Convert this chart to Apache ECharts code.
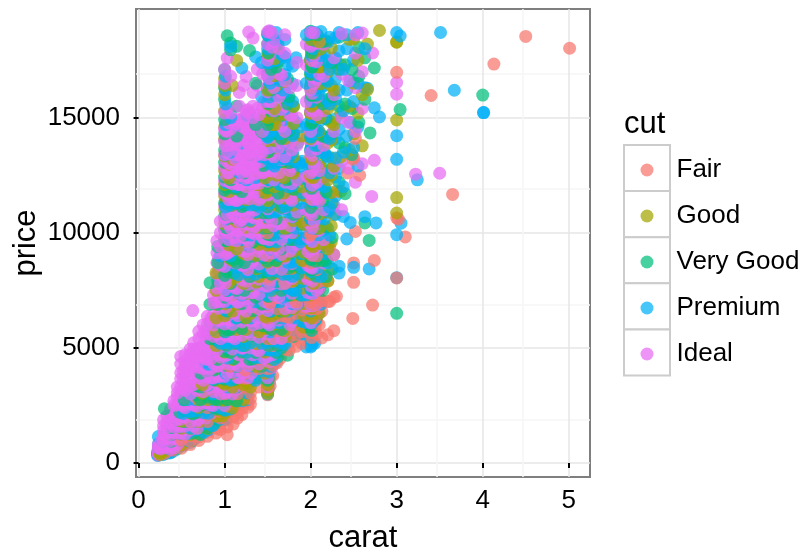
<!DOCTYPE html>
<html><head><meta charset="utf-8">
<style>html,body{margin:0;padding:0;background:#fff}#c{width:807px;height:552px}</style>
<script src="https://cdn.jsdelivr.net/npm/echarts@6/dist/echarts.min.js"></script>
</head><body><div id="c"></div>
<script>
const cuts = ['Fair','Good','Very Good','Premium','Ideal'];
const colors = ['#F8766D','#A3A500','#00BF7D','#00B0F6','#E76BF3'];
const xTicks = [0,1,2,3,4,5];
const yTicks = [0,5000,10000,15000];
// Each row: [carat, [prices...]]
const fair = [
[0.3,[420,560]],[0.4,[560,700,860]],[0.5,[640,800,1000,1240]],[0.6,[800,960,1180,1420,1700]],[0.7,[980,1130,1360,1620,1880,2230]],[0.8,[1160,1340,1590,1800,2100,2400]],[0.9,[1300,1510,1760,2050,2320,2560]],
[1.03,[1230,1560,1880,2150,2480,2780]],[1.1,[1690,2000,2300,2590,2870]],[1.2,[2100,2360,2600,2810]],[1.27,[2420,2640,2830]],[1.3,[2550,2800,3050]],
[1.5,[2960,3200,3520,3810,4090,4400,4720,5000,5400,5900,6300,6800,7300,8100,9000,10000,11000,12200]],[1.56,[3800,4250,4650,5100,5650,6220]],[1.65,[4560,5000,5440,5900,6400]],[1.75,[4900,5480,5950,6330,6800]],[1.83,[5070,5560,6100,6500,7000]],[1.9,[5200,5700,6240,6650]],
[2.0,[5670,5900,6180,6440,6700,7000,7300,7620,7990,8340,8700,9100,9480,9900,10320,10800,11500,12400,13300,14200,15200,16400]],[2.05,[5900,6310,6900,7400,8000,8600]],[2.13,[5430,6590,7050,7920]],[2.2,[5570,7020,7920,8300]],[2.22,[7020,9400]],[2.27,[5750,7200]],[2.3,[7240,11800]],
[2.43,[12600]],[2.49,[6280,13200]],[2.5,[7850,8690,13270]],[2.52,[10060,14100]],[2.57,[12500]],[2.72,[6860]],[2.74,[8800]],
[3.0,[8040,10650,16970]],[3.02,[10590]],[3.1,[9820]],[3.4,[15964]],[3.65,[11668]],[4.13,[17329]],[4.5,[18531]],[5.01,[18018]]
];
const fairFill = [
[1.06,[2900,3180,3500,3840,4200,4590,4950]],[1.24,[2950,3300,3680,4040,4430,4810,5200]],[1.4,[3300,3700,4100,4520,4960,5380,5800]],
[1.53,[3350,3760,4180,4630,5090,5540,6030,6490,6980,7450,7960,8440,8960,9480]],[1.61,[4350,4790,5260,5740,6210,6700,7190,7710,8230,8760]],[1.71,[4930,5390,5860,6360,6860,7370,7890,8440,8990]],[1.78,[5300,5780,6290,6800,7330,7880,8450]],
[2.01,[5450,5840,6260,6690,7140,7590,8040,8500,8990,9470,9960,10480]],[2.07,[5600,6150,6700,7240,7810,8400,9000]],[2.1,[6000,6800,7500,8200]],
[0.95,[1450,1700,1960,2230,2510,2790]],[1.15,[1950,2220,2500,2770,3010,3240,3480]],[1.93,[5350,5800,6280,6760,7250,7750,8260,8780]]
];
const good = [
[0.25,[370,440,520]],[0.31,[510,640,800]],[0.4,[620,800,1010,1280]],[0.5,[800,1020,1260,1510,1820]],[0.6,[1010,1240,1500,1800,2180]],[0.7,[1270,1540,1800,2080,2420,2750]],[0.8,[1500,1760,2020,2340,2750,3150]],[0.9,[1780,2040,2340,2750,3180,3600]],
[0.9,[4100,4550,5100,5700,6300,6900,7500,8260]],
[1.0,[2150,2500,2750,3000,3420,3860,4320,4820,5340,5850,6400,6920,7480,8030,8600,9200,9800,10400,11000,11600,12100,12700,13350,14060,14600,15290,16000,16400,16700]],
[1.09,[2400,2750,3300,3900,4500,5200,5900,6600,7300,8000,8800,9600,10400,11200,12100,13200,16400]],[1.14,[17490,2750,3600,4700,5800,6900,8100,9300,10500,11900]],[1.22,[2750,3400,4400,5500,6700,7800,9100,10400]],[1.3,[3300,4300,5300,6500,7700,9100,10500]],[1.4,[3700,4700,5700,7000,8100,9500,11000,12100]],
[1.5,[3020,3180,3400,3640,3860,4120,4400,4700,5000,5260,5600,5900,6250,6580,6900,7260,7620,8000,8350,8720,9100,9460,9840,10250,10640,11020,11400,11800,12200,12640,13050,13500,14000,14500,15000,15600,16200,17000,17800]],
[1.55,[4500,5400,6400,7500,8600,9800,11000,12200,13400,14700,16000]],[1.6,[4700,5500,6500,7700,8800,10000,11200,12500,13700,15000,16400,18100]],[1.7,[5500,6600,7800,9000,10200,11500,12800,14100]],[1.8,[6100,7100,8500,10000,11500,12700,14300]],[1.9,[6200,7600,8800,10500,12000,14200]],
[2.0,[6100,6500,6900,7300,7700,8200,8640,9070,9520,10020,10480,11010,11500,12020,12500,13000,13600,14100,14640,15200,15800,16300,16900,17500,18100,18400]],
[2.03,[6200,7000,7800,8600,9400,10400,11300,12400,13400,14500,15600,16700,17800]],[2.1,[6500,7600,8800,10200,11600,13000,14400,15800,17200,18300]],[2.2,[7900,9300,10900,12300,13900,15400,17000]],[2.27,[9050,10800,12900,14700,16200]],[2.35,[11800,13300,15200,17300]],[2.45,[13600,15500,18400]],[2.5,[14300,16500,18420]],[2.55,[15200,17500]],[2.6,[13780,16000]],[2.66,[16220,18200]],
[2.8,[18787]],[3.0,[10860,11530,14900,18280,18290]]
];
const goodFill = [
[1.05,[3180,3540,3960,4390,4840,5300,5790,6280,6790,7310,7830,8370,8920,9470,10040,10610,11200,11790,12380,12980]],
[1.25,[3500,3910,4360,4820,5310,5800,6310,6840,7370,7920,8480,9060,9640,10240,10840,11440,12050]],
[1.37,[3760,4200,4680,5180,5690,6220,6750,7300,7860,8440,9020,9620,10230,10850,11470,12100,12720]],
[1.47,[3900,4340,4820,5330,5840,6370,6920,7480,8050,8640,9230,9840,10460,11090,11730,12380,13040,13700,14380,15060]],
[1.58,[4560,5030,5520,6040,6570,7120,7680,8260,8850,9450,10070,10700,11340,12000,12660,13330,14010,14700,15400,16110,16830,17560]],
[1.69,[5240,5750,6280,6830,7400,7980,8570,9180,9800,10430,11080,11730,12400,13080,13760,14450,15150,15860,16580]],
[1.8,[6700,7300,7920,8560,9200,9860,10530,11200,11890,12590,13300,14020,14750,15490]],
[2.01,[5900,6300,6740,7170,7620,8080,8550,9030,9520,10020,10530,11040,11570,12100,12650,13200,13760,14330,14910,15500,16100,16710,17330,17960,18580]],
[2.11,[7100,7680,8280,8900,9530,10170,10830,11500,12180,12870,13570,14280,15000,15730,16470,17220,17980]],
[2.24,[9600,10300,11020,11750,12500,13260,14030,14810,15600,16400,17210,18030]],
[0.56,[1150,1400,1680,1980,2300,2640]],[0.74,[1400,1680,1990,2320,2670,3030,3400,3780]],[0.98,[2050,2380,2730,3100,3490,3890,4310]],[1.92,[5900,6400,6920,7460,8010,8580,9160,9760,10370,10990,11620,12260]]
];
const veryGood = [
[0.23,[340,420,500,590]],[0.3,[2360,400,560,760,980,1180]],[0.38,[480,700,950,1230,1540]],[0.46,[640,880,1170,1490,1860]],[0.53,[810,1100,1420,1800,2260,2750]],[0.63,[980,1300,1680,2130,2640,3180]],[0.72,[1240,1590,2000,2500,2750,3300,3900]],[0.8,[1530,1870,2350,2860,3380,4000,4700]],[0.83,[5400,6100,6900,7830]],[0.92,[1900,2350,2750,3200,3800,4500,5300,6100,6900,7900,8700,9400]],
[1.0,[2300,2620,2950,3280,3640,4050,4420,4850,5320,5730,6220,6690,7200,7690,8150,8650,9240,9680,10120,10720,11300,11850,12420,13060,13600,14300,14920,15800,16300,17090]],
[1.03,[2750,3400,4100,4950,5800,6600,7500,8300,9200,18560]],[1.07,[3100,3900,4800,5800,6800,7800,8900,10100,11000,12300,13900,17950,18250]],[1.14,[18100,2700,3300,4200,5200,6300,7500,8700,10000,11300,12800,14200,15500]],[1.23,[3100,4100,5100,6300,7500,8700,9900,11200,12600,14000]],[1.29,[17920,3500,4500,5600,6800,8100,9400,10700,12100,13400,15200]],[1.36,[3700,4800,6000,7200,8500,9800,11200,12800,14700,16500]],[1.43,[4200,5500,6900,8300,9700,11200,12700,14400]],
[1.5,[3100,3350,3600,3860,4150,4430,4740,5040,5350,5680,6000,6320,6660,7000,7340,7700,8060,8420,8780,9160,9540,9930,10320,10720,11120,11530,11950,12380,12800,13280,13720,14200,14700,15200,15700,16300,16900,17600,18200,18650]],
[1.54,[4300,5000,5800,6600,7400,8200,9000,9900,10700,11600,12500,13400,14300,15300,16200,17100,18100]],[1.6,[4800,5500,6300,7100,7900,8800,9700,10600,11500,12400,13300,14300,15300,16300,17200]],[1.66,[5000,5800,6600,7500,8400,9300,10200,11100,12100,13100,14100,15100]],[1.73,[4680,5500,6400,7300,8200,9200,10200,11200,12300,13300,14400,15600,16700]],[1.8,[5500,6500,7500,8600,9700,10800,11900,13100,14300,15500]],[1.85,[5670,6900,8200,9500,10900,12400,13900]],
[2.0,[5500,5900,6300,6720,7120,7560,7980,8400,8840,9290,9720,10180,10620,11100,11560,12060,12530,13040,13560,14080,14630,15180,15740,16320,16880,17460,18040,18620,18760]],
[2.02,[6500,7400,8400,9400,10400,11500,12600,13700,14800,16000,17200,18400]],[2.08,[6800,7900,9000,10200,11400,12600,13800,15000,16300,17500,18600]],[2.14,[7500,8800,10100,11400,12800,14200,15600,17000,18300]],[2.25,[8430,9800,11300,12800,14300,15900,17400]],[2.33,[12200,13900,15500,17100,18500]],[2.4,[11700,13700,15600,17300]],[2.48,[13400,15400,17100]],[2.56,[14800,16800,18050]],[2.63,[10430,15800,17600]],[2.68,[9670]],[2.69,[14340]],[2.74,[17160]],
[3.0,[6500]],[3.04,[15354]],[4.0,[15984]]
];
const veryGoodFill = [
[1.02,[3060,3440,3830,4240,4670,5110,5560,6030,6510,7000,7510,8030,8560,9100,9660,10220,10800,11380,11980,12580,13190]],
[1.11,[3200,3620,4060,4530,5020,5520,6040,6570,7120,7680,8250,8840,9430,10040,10660,11290,11930,12580]],
[1.2,[3450,3880,4340,4820,5320,5840,6370,6920,7480,8060,8650,9250,9870,10500,11140,11790,12450]],
[1.33,[4050,4520,5020,5540,6070,6620,7190,7770,8370,8980,9600,10240,10890,11550,12220]],
[1.45,[4400,4900,5420,5960,6520,7100,7690,8300,8920,9550,10200,10860,11530,12220,12920,13630,14350,15080]],
[1.51,[3220,3680,4130,4610,5100,5610,6140,6680,7240,7810,8390,8990,9600,10220,10860,11510,12170,12840,13520,14210,14910,15620,16340,17070,17810,18560]],
[1.62,[4620,5120,5640,6180,6740,7310,7900,8500,9120,9750,10390,11050,11720,12400,13090,13790,14500,15220,15950,16690,17440,18200]],
[1.75,[5650,6170,6720,7290,7870,8470,9080,9710,10350,11010,11680,12360,13050,13750,14460,15180,15910]],
[2.01,[5350,5760,6170,6590,7020,7470,7920,8390,8860,9350,9850,10360,10870,11400,11930,12480,13040,13600,14180,14760,15360,15960,16570,17200,17830,18480]],
[2.06,[6250,6860,7480,8120,8770,9440,10120,10810,11510,12220,12950,13690,14440,15200,15970,16750,17540,18340]],
[2.18,[8100,8800,9520,10260,11010,11780,12560,13350,14150,14970,15790,16630,17480,18340]],
[0.48,[760,1000,1270,1560,1870,2200]],[0.67,[1180,1490,1830,2190,2570,2960,3360]],[0.88,[1700,2040,2410,2800,3200,3610,4040,4480,4930,5390]],[1.88,[5650,6180,6730,7300,7880,8480,9090,9720,10360,11010,11670,12340,13020]]
];
const premium = [
[0.22,[335,390,460]],[0.23,[1150,540,660,830]],[0.28,[360,500,700,950]],[0.34,[430,620,860,1130,1430]],[0.42,[550,780,1060,1360,1720,2030]],[0.52,[760,1040,1350,1720,2150,2750]],[0.57,[2750,980,1280,1600,2000,2480]],[0.66,[1080,1430,1830,2260,2750,3260]],[0.76,[1340,1700,2180,2660,3200,3760,4400]],[0.86,[1620,2000,2480,2750,3000,3650,4300,5000,5800]],[0.95,[1900,2400,2750,3100,3700,4400,5200,6100,7000,8000,9000]],
[1.01,[1900,2300,2750,3120,3500,3900,4340,4760,5240,5700,6140,6640,7120,7580,8070,8570,9050,9550,10050,10590,11120,11680,12200,12780,13380,14040,14700,15600,16200,16800]],
[1.07,[2350,2950,3600,4400,5200,6100,7000,8000,9000,10100,11200,12500,13500,15000,18100]],[1.13,[2750,3500,4400,5300,6300,7400,8500,9700,10900,12000,13300,14700]],[1.2,[2700,3250,4150,5100,6200,7300,8500,9700,11000,12400,13900,17160]],[1.26,[2750,3040,3800,4800,5900,7100,8300,9500,10900,12300,13700,15100]],[1.36,[3600,4600,5800,7000,8200,9500,10900,12400,17640]],[1.43,[4000,5200,6400,7700,9000,10400,11800,13300,15900,17400]],
[1.5,[3000,3280,3520,3780,4050,4330,4620,4930,5240,5560,5890,6220,6560,6920,7280,7640,8000,8370,8740,9120,9500,9880,10280,10680,11080,11490,11900,12330,12760,13200,13660,14140,14640,15160,15700,16240,16820,17380,18000,18600]],
[1.53,[18740,4200,4900,5700,6600,7500,8400,9300,10300,11300,12300,13300,14400,15400,16500,17600]],[1.58,[4500,5300,6100,7000,7900,8900,9900,10900,11900,12900,14000,15100,16300,17500,18400]],[1.64,[5240,6100,7000,8000,9000,10000,11000,12100,13200,14300,15400,16600,17800]],[1.68,[5240,6300,7200,8200,9200,10300,11400,12500,13700,14900,16200,17700]],[1.74,[5600,6600,7600,8700,9800,10900,12000,13200,14500,15800,17300]],[1.83,[6300,7500,8800,10200,11600,13100,14800,17600]],[1.88,[6500,8000,9600,11300,12900,14600]],
[1.95,[5040,6100,7300,8600,10000,11500,13000,14700,16500,18600]],
[2.0,[5040,5400,5800,6200,6600,7040,7480,7900,8320,8760,9220,9680,10140,10600,11080,11560,12080,12580,13100,13620,14160,14700,15260,15840,16400,16980,17560,18140,18720]],
[2.03,[5250,7410,8500,9500,10700,11900,13100,14300,15500,16700,18000]],[2.05,[5210,6200,7000,8000,9100,10200,11400,12600,13800,15000,16200,17400,18700]],[2.12,[6900,8100,9400,10700,12100,13500,14900,16300,17700,18740]],[2.16,[9090,7900,8800,10600,12000,13500,15000,16400,17800]],[2.22,[9900,11100,12600,14100,15600,17100,18500]],[2.33,[8250,8550,12800,14500,16200,17900,18700]],[2.38,[10710,12000,13500,15300,17100]],[2.42,[9730,14200,16200,18000,18600]],[2.46,[10450,14800,16600]],[2.5,[8500,13700,15700,17500]],[2.55,[12900,14600,16500,18700]],[2.63,[10700,16300,18000]],[2.66,[16280]],[2.68,[8430]],[2.74,[15430]],[2.76,[10430]],[2.8,[15030]],
[3.0,[8050,9920,13190,14220,18700]],[3.04,[18550]],[3.05,[10420]],[3.24,[12300]],[3.51,[18701]],[3.67,[16193]],[4.01,[15223,15223]]
];
const premiumFill = [
[1.04,[3300,3700,4120,4560,5020,5490,5980,6480,6990,7520,8060,8610,9170,9750,10340,10940,11550,12170,12800,13440]],
[1.16,[3100,3520,3960,4430,4920,5420,5940,6480,7030,7600,8180,8780,9390,10010,10650,11300,11960,12630]],
[1.3,[3760,4220,4710,5220,5750,6300,6860,7440,8030,8640,9260,9900,10550,11210,11880,12560]],
[1.41,[4100,4580,5090,5620,6170,6740,7320,7920,8530,9160,9800,10450,11120,11800,12490]],
[1.52,[3500,3960,4440,4950,5480,6020,6580,7160,7750,8360,8980,9620,10270,10930,11610,12300,13000,13710,14430,15160,15900,16650,17410,18180,18680]],
[1.6,[4400,4900,5430,5980,6550,7130,7730,8340,8970,9610,10270,10940,11620,12320,13030,13750,14480,15220,15970,16730,17500,18280,18700]],
[1.7,[5160,5680,6230,6790,7370,7960,8570,9190,9830,10480,11150,11830,12520,13220,13930,14650,15380,16120,16870,17630,18400]],
[1.79,[5800,6350,6920,7510,8110,8730,9370,10020,10690,11370,12060,12770,13490,14220,14960,15710,16470,17240]],
[2.01,[5100,5580,6050,6530,7020,7520,8040,8560,9100,9650,10210,10780,11360,11950,12550,13160,13780,14410,15050,15700,16360,17030,17710,18400]],
[2.09,[6500,7150,7820,8500,9200,9910,10630,11370,12120,12880,13650,14430,15220,16020,16830,17650,18480]],
[2.2,[8700,9430,10180,10940,11710,12490,13290,14090,14910,15740,16580,17430,18290]],
[2.29,[10800,11600,12420,13250,14090,14950,15810,16690,17580,18470]],
[0.37,[440,640,870,1120,1400,1690]],[0.6,[890,1180,1510,1860,2230,2620,3030]],[0.81,[1450,1790,2160,2560,2970,3400,3840,4290,4750]],[1.9,[5600,6150,6710,7290,7880,8490,9110,9750,10400,11060,11730,12420,13110]]
];
const ideal = [
[0.23,[345,400,470,560,640,700,800]],[0.26,[380,520,610,800,930]],[0.29,[450,560,680,800,930,1050,1200,1400,1620,1880]],[0.33,[520,700,880,1080,1300,1550,1780,2050]],[0.37,[600,760,980,1230,1480,1730,2000,2320]],[0.41,[650,860,1050,1320,1580,1850,2150,2500,2700]],[0.45,[800,1020,1300,1590,1880,2200,2520,2850,3040,3300]],[0.49,[1000,1280,1580,1900,2250,2600,2950,3300,3650,3920,4300,4630]],[0.54,[1250,1600,2000,2400,2780,3150,3500,3880,4200,4420,4700]],[0.6,[1450,1800,2200,2600,3000,3350,3700,4000,4350,4700,4950]],[0.63,[6620]],[0.64,[1600,2050,2500,2950,3400,3800,4200,4600,4950,5220]],[0.7,[1900,2350,2800,3250,3700,4150,4600,5000,5400,5720]],[0.75,[2100,2600,3100,3600,4100,4600,5100,5600,6000]],[0.8,[2300,2850,3400,3950,4500,5050,5600,6050,6370]],[0.87,[2500,3100,3700,4300,4900,5500,6000,6450,6960,7300]],[0.91,[2800,3500,4200,4900,5600,6300,7000,7600,8200,8700,9130,9650]],[0.95,[3000,3800,4600,5400,6200,7000,7800,8600,9400,10000,10500]],
[1.0,[2500,2900,3350,3760,4190,4640,5090,5560,6040,6520,7020,7520,8030,8540,9060,9580,10120,10640,11180,11720,12280,12840,13400,13980,14500,15200,16500,17100]],
[1.03,[3100,3900,4700,5500,6400,7300,8200,9100,10000,10800,11700,12600,13500,14400,14900,15400,17590]],[1.07,[3400,4300,5200,6200,7200,8200,9200,10200,11200,12200,13000,13800,14500,15200,16800]],[1.12,[3300,4300,5400,6500,7600,8700,9800,10800,11600,12400,13200,13900,14700]],[1.17,[3700,4700,5800,7000,8200,9400,10500,11300,12100,12800,13500,14200,14900,15500,16100]],[1.22,[3900,5000,6200,7400,8600,9800,10700,11500,12200,12900,13600,14300,15000,16400]],[1.25,[4100,5300,6600,7900,9200,10400,11300,12000,12700,13400,14100,14800,15300,16790]],[1.28,[18720,4400,5700,7000,8300,9600,10800,11700,12400,13100,13800,14500,15200]],[1.33,[18460,4700,6000,7400,8800,10200,11300,12200,12900,13600,14300,15000,15500,16100]],[1.38,[4900,6300,7700,9200,10700,11800,12600,13400,14100,14800,15400,16400,17100]],[1.44,[5300,6800,8300,9800,11300,12600,13500,14400,15400,16900]],
[1.5,[3300,3700,4150,4620,5100,5600,6100,6620,7150,7680,8220,8760,9320,9880,10460,11040,11640,12240,12860,13480,14120,14780,15440,16120,16800,17500,18200,18720]],
[1.52,[4400,5200,6000,6900,7800,8700,9700,10700,11700,12700,13700,14700,15700,16700,17700,18780]],[1.57,[4490,5400,6300,7300,8300,9300,10300,11300,12300,13300,14300,15300,16300,17300,18300]],[1.63,[5200,6200,7200,8200,9300,10400,11500,12600,13700,14800,15900,16900,18000]],[1.7,[5700,6700,7800,8900,10000,11100,12200,13300,14400,15500,16600,17800,18600]],[1.76,[6000,7000,8100,9200,10300,11500,12700,13900,15100,16300]],[1.84,[6900,8200,9500,10900,12300,13800,15000,16400,17400]],
[1.95,[6800,8100,9500,11000,12500,14100,15700,17300,18200]],
[2.0,[6100,6900,7700,8500,9300,10100,10900,11700,12600,13500,14400,15300,16200,17200,18100,18700]],
[2.04,[7100,8200,9300,10500,11700,12900,14100,15300,16500,17700,18680]],[2.1,[7600,8800,10100,11400,12700,14100,15500,16900,18300]],[2.15,[8690,9700,11000,12400,13800,15300,16800,18200]],[2.27,[9050,11200,12800,14400,16000,17600]],[2.36,[11000,13100,15000,16900,18650]],[2.44,[12800,14800,16600]],[2.52,[12200,14400,16300,17800,18600]],[2.6,[13000,15400,17000,18680]],[2.72,[17810]],[2.71,[11580]],[2.74,[13150]],
[3.0,[16020,16530]],[3.22,[12545]],[3.5,[12587]]
];
const idealFill = [
[0.68,[1500,1820,2140,2470,2810,3150,3500,3860,4220,4590,4970]],[0.78,[1950,2280,2630,2990,3360,3740,4130,4520,4930,5340,5760]],[0.84,[2150,2520,2900,3290,3690,4100,4520,4950,5390,5830,6280]],[0.93,[3300,3750,4220,4700,5190,5690,6200,6720,7250,7790,8340,8900]],
[1.01,[3020,3440,3870,4320,4780,5260,5750,6250,6760,7290,7830,8380,8940,9510,10090,10680,11280,11890,12510,13140,13780,14430]],
[1.09,[3000,3460,3940,4440,4950,5480,6020,6580,7150,7730,8330,8940,9560,10190,10830,11480,12140,12810,13490,14180,14880]],
[1.15,[3240,3720,4220,4740,5280,5830,6400,6980,7580,8190,8810,9440,10090,10750,11420,12100,12790,13490,14200,14920]],
[1.2,[3400,3910,4440,4990,5550,6130,6720,7330,7950,8580,9230,9880,10550,11230,11920,12620,13330,14050,14780]],
[1.27,[3700,4230,4780,5350,5930,6530,7140,7760,8400,9050,9710,10380,11060,11750,12450,13160,13880,14610,15350]],
[1.31,[3900,4440,5000,5580,6170,6780,7400,8030,8680,9340,10010,10690,11380,12080,12790,13510,14240,14980]],
[1.4,[4300,4870,5460,6070,6690,7330,7980,8650,9330,10020,10720,11430,12150,12880,13620,14370,15130]],
[1.46,[4550,5140,5750,6380,7020,7680,8350,9040,9740,10450,11170,11900,12640,13390,14150,14920,15700]],
[1.55,[4150,4700,5280,5880,6500,7130,7780,8440,9120,9810,10510,11220,11940,12670,13410,14160,14920,15690,16470,17260,18060,18670]],
[1.66,[5400,5970,6560,7160,7780,8410,9060,9720,10390,11070,11760,12460,13170,13890,14620,15360,16110,16870]],
[1.78,[6150,6750,7370,8010,8660,9330,10010,10700,11410,12130,12860,13600,14350,15110]],
[2.02,[5800,6300,6820,7350,7900,8460,9030,9620,10210,10820,11440,12070,12710,13360,14020,14690,15370,16060,16760,17470,18190]],
[2.07,[6900,7500,8130,8770,9430,10100,10780,11480,12190,12910,13640,14380,15130,15890,16660,17440,18230]],
[1.05,[9700,10020,10360,10710,11070,11440,11820,12210,12610,13020,13440,13870,14310,14760]],[1.13,[9650,9980,10320,10670,11030,11400,11780,12170,12570,12980,13400,13830,14270,14720]],[1.19,[9900,10240,10590,10950,11320,11700,12090,12490,12900,13320,13750,14190,14640]],[1.24,[9780,10120,10470,10830,11200,11580,11970,12370,12780,13200,13630,14070,14520,14980]],[1.29,[10050,10390,10740,11100,11470,11850,12240,12640,13050,13470,13900,14340,14790]],[1.35,[9950,10290,10640,11000,11370,11750,12140,12540,12950,13370,13800,14240,14690]],[1.42,[10100,10440,10790,11150,11520,11900,12290,12690,13100,13520,13950,14390]],
[0.52,[1120,1450,1790,2130,2480,2850,3230,3620,4010]],[1.97,[6300,6840,7400,7980,8570,9180,9800,10440,11090,11750,12420]]
];

const byCut = [fair.concat(fairFill), good.concat(goodFill), veryGood.concat(veryGoodFill), premium.concat(premiumFill), ideal.concat(idealFill)];
const bandWidth = 300;
const bands = {};
byCut.forEach((rows, c) => rows.forEach(([carat, prices]) => prices.forEach(p => {
  const b = Math.floor(p / bandWidth);
  (bands[b] = bands[b] || cuts.map(() => []))[c].push([carat, p]);
})));
const series = [];
Object.keys(bands).map(Number).sort((a, b) => a - b).forEach(b => {
  for (let i = 0; i < 5; i++) {
    const c = b % 2 === 0 ? (i + b) % 4 : (i + b * 2) % 5;
    const cut = b % 2 === 0 && i === 4 ? 4 : c;
    series.push({
      name: cuts[cut], type: 'scatter', symbol: 'circle', symbolSize: 13,
      data: bands[b][cut], silent: true, animation: false,
      itemStyle: { color: colors[cut], opacity: 0.72 }
    });
  }
});
const F = 'Liberation Sans, Arial, sans-serif';
const legendRows = cuts.map((_, i) => ({ type: 'rect', shape: { x: 624, y: 145 + i * 46.1, width: 46, height: 46.1 },
  style: { fill: '#fff', stroke: '#cccccc', lineWidth: 2 }, z: 1 }));
const chart = echarts.init(document.getElementById('c'), null, { renderer: 'canvas' });
chart.setOption({
  animation: false, backgroundColor: '#fff',
  grid: { left: 136, right: 217, top: 9, bottom: 75, outerBoundsMode: 'none', show: true, borderColor: '#7f7f7f', borderWidth: 2, backgroundColor: '#fff', z: 0 },
  legend: { data: cuts, orient: 'vertical', left: 640.5, top: 157, itemWidth: 13, itemHeight: 14, itemGap: 20, icon: 'circle', selectedMode: false,
    textStyle: { fontFamily: F, fontSize: 26, color: '#000', lineHeight: 14, padding: [0, 0, 0, 18] }, padding: 0, z: 5 },
  graphic: legendRows.concat([{ type: 'text', left: 624, top: 109, style: { text: 'cut', font: '31px ' + F, fill: '#000' } }]),
  xAxis: { type: 'value', min: -0.03, max: 5.247, name: 'carat', nameLocation: 'middle', nameGap: 46,
    nameTextStyle: { fontFamily: F, fontSize: 31, color: '#000' },
    axisLine: { show: false }, axisTick: { show: true, length: 5, lineStyle: { color: '#000', width: 2 }, customValues: xTicks },
    axisLabel: { fontFamily: F, fontSize: 26, color: '#000', margin: 11, customValues: xTicks, formatter: v => String(v) },
    splitLine: { show: true, lineStyle: { color: '#e6e6e6', width: 1.5 } }, interval: 1,
    minorTick: { show: false, splitNumber: 2 }, minorSplitLine: { show: true, lineStyle: { color: '#f6f6f6', width: 1.5 } } },
  yAxis: { type: 'value', min: -608, max: 19722, name: 'price', nameLocation: 'middle', nameGap: 94, nameMoveOverlap: false,
    nameTextStyle: { fontFamily: F, fontSize: 31, color: '#000' },
    axisLine: { show: false }, axisTick: { show: true, length: 5, lineStyle: { color: '#000', width: 2 }, customValues: yTicks },
    axisLabel: { fontFamily: F, fontSize: 26, color: '#000', margin: 16, customValues: yTicks, formatter: v => String(v) },
    splitLine: { show: true, lineStyle: { color: '#e6e6e6', width: 1.5 } }, interval: 5000,
    minorTick: { show: false, splitNumber: 2 }, minorSplitLine: { show: true, lineStyle: { color: '#f6f6f6', width: 1.5 } } },
  series
});
</script></body></html>
